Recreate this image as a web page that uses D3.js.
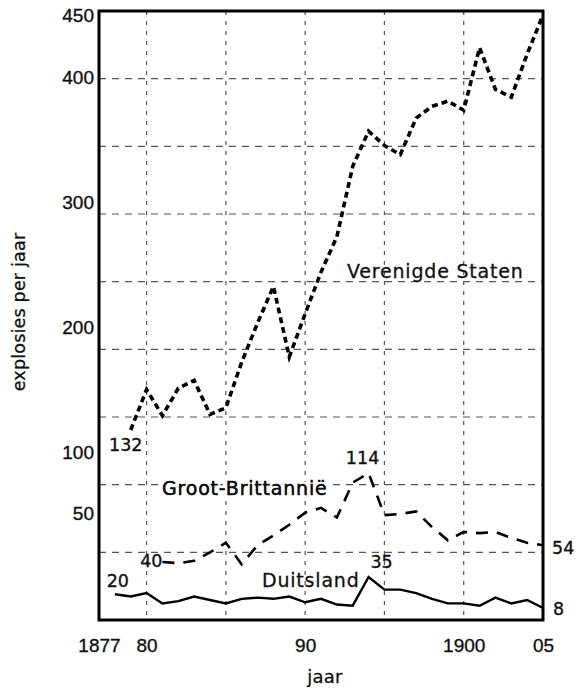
<!DOCTYPE html>
<meta charset="utf-8">
<style>
body { margin: 0; background: #fff; }
svg { font-family: "DejaVu Sans", sans-serif; }
.tick text { font-size: 19px; fill: #111; stroke: #111; stroke-width: 0.35px; }
.label { font-size: 19px; letter-spacing: 0.8px; fill: #111; stroke: #111; stroke-width: 0.3px; }
.num { font-size: 17.5px; fill: #111; stroke: #111; stroke-width: 0.35px; }
.halo { paint-order: stroke; stroke: #fff; stroke-width: 5px; stroke-linejoin: round; }
.grid line { stroke: #555; stroke-width: 1.2; }
</style>
<body>
<script src="https://d3js.org/d3.v7.min.js"></script>
<script>

// data (explosions per year)
var years = [1877,1878,1879,1880,1881,1882,1883,1884,1885,1886,1887,1888,1889,1890,
             1891,1892,1893,1894,1895,1896,1897,1898,1899,1900,1901,1902,1903,1904,1905];

var usValues = [null,null,132,163,143,164,170,144,149,184,214,242,188,221,
                253,280,334,361,350,343,371,380,384,377,425,393,387,420,450];

var gbValues = [null,null,null,null,40,39,41,48,56,38,54,62,71,81,
                85,77,106,114,79,80,82,69,58,65,64,65,60,56,54];

var deValues = [null,20,18,21,12,14,18,15,12,16,17,16,18,13,
                16,11,10,35,24,24,21,16,12,12,10,17,12,15,8];

var xTickYears = [1877,1880,1890,1900,1905];
var xTickLabels = ["1877","80","90","1900","05"];
var yTickValues = [50,100,200,300,400,450];
var gridYears = [1880,1885,1890,1895,1900];
var gridRows = [1,2,3,4,5,6,7,8];

var width = 580, height = 693;
var plotLeft = 99, plotRight = 543, plotTop = 11, plotBottom = 620;

var svg = d3.select("body").append("svg")
    .attr("width", width)
    .attr("height", height);

var x = d3.scaleLinear().domain([1877, 1905]).range([plotLeft, plotRight]);

// the axis labels follow their own (broken) scale
var yAxisScale = d3.scaleLinear().domain([50, 100, 450]).range([513, 452, 15]);
var gridScale = d3.scaleLinear().domain([0, 9]).range([plotBottom, plotTop]);

// each country is drawn on its own scale in the original
var usY = d3.scaleLinear().domain([132, 450]).range([430, 15]);
var gbY = d3.scaleLinear().domain([40, 114]).range([562, 473]);
var deY = d3.scaleLinear().domain([8, 35]).range([608, 577]);

// grid
var grid = svg.append("g").attr("class", "grid");
grid.selectAll(".v").data(gridYears).enter().append("line")
    .attr("x1", function(d) { return x(d); })
    .attr("x2", function(d) { return x(d); })
    .attr("y1", plotTop).attr("y2", plotBottom)
    .attr("stroke-dasharray", "4,6");
grid.selectAll(".h").data(gridRows).enter().append("line")
    .attr("x1", plotLeft).attr("x2", plotRight)
    .attr("y1", function(d) { return gridScale(d); })
    .attr("y2", function(d) { return gridScale(d); })
    .attr("stroke-dasharray", "7,6");

// axes (labels only)
svg.append("g")
    .attr("transform", "translate(" + plotLeft + ",0)")
    .call(d3.axisLeft(yAxisScale).tickValues(yTickValues).tickSize(0).tickPadding(5))
    .call(function(g) { g.select(".domain").remove(); });

svg.append("g")
    .attr("transform", "translate(0," + plotBottom + ")")
    .call(d3.axisBottom(x).tickValues(xTickYears).tickSize(0).tickPadding(19)
      .tickFormat(function(d, i) { return xTickLabels[i]; }))
    .call(function(g) { g.select(".domain").remove(); });

// lines
function drawLine(values, yScale, dash, w) {
  var pts = years.map(function(yr, i) { return [yr, values[i]]; });
  var line = d3.line()
      .defined(function(d) { return d[1] != null; })
      .x(function(d) { return x(d[0]); })
      .y(function(d) { return yScale(d[1]); });
  svg.append("path")
      .datum(pts)
      .attr("d", line)
      .attr("fill", "none")
      .attr("stroke", "#000")
      .attr("stroke-width", w)
      .attr("stroke-linejoin", "miter")
      .attr("stroke-dasharray", dash);
}
drawLine(usValues, usY, "6,4", 3.6);
drawLine(gbValues, gbY, "12,9", 2.6);
drawLine(deValues, deY, null, 2.4);

// frame
svg.append("rect")
    .attr("x", plotLeft).attr("y", plotTop)
    .attr("width", plotRight - plotLeft).attr("height", plotBottom - plotTop)
    .attr("fill", "none")
    .attr("stroke", "#000")
    .attr("stroke-width", 3);

// annotations
function note(txt, xp, yp, anchor, cls) {
  return svg.append("text")
      .attr("class", cls)
      .attr("x", xp).attr("y", yp)
      .attr("text-anchor", anchor)
      .text(txt);
}
note("132", x(1879) - 5, usY(132) + 21, "middle", "num");
note("114", x(1894) - 6, gbY(114) - 9, "middle", "num");
note("40", x(1881), gbY(40) + 5, "end", "num");
note("54", x(1905) + 9, gbY(54) + 9, "start", "num");
note("20", x(1878) + 3, deY(20) - 7, "middle", "num");
note("35", x(1894) + 13, deY(35) - 9, "middle", "num");
note("8", x(1905) + 10, deY(8) + 7, "start", "num");

note("Verenigde Staten", 347, 278, "start", "label");
// white halo hides the gridline running through this label
note("Groot-Brittannië", 162, 495, "start", "label halo");
note("Groot-Brittannië", 162, 495, "start", "label");
note("Duitsland", 262, 587, "start", "label");

// axis titles
svg.append("text")
    .attr("class", "label")
    .attr("x", 325).attr("y", 683)
    .attr("text-anchor", "middle")
    .style("font-size", "18px")
    .style("letter-spacing", "0.3px")
    .text("jaar");

svg.append("text")
    .attr("class", "label")
    .attr("transform", "translate(25,312) rotate(-90)")
    .attr("text-anchor", "middle")
    .style("font-size", "17.5px")
    .style("letter-spacing", "0.2px")
    .text("explosies per jaar");

</script>
</body>
